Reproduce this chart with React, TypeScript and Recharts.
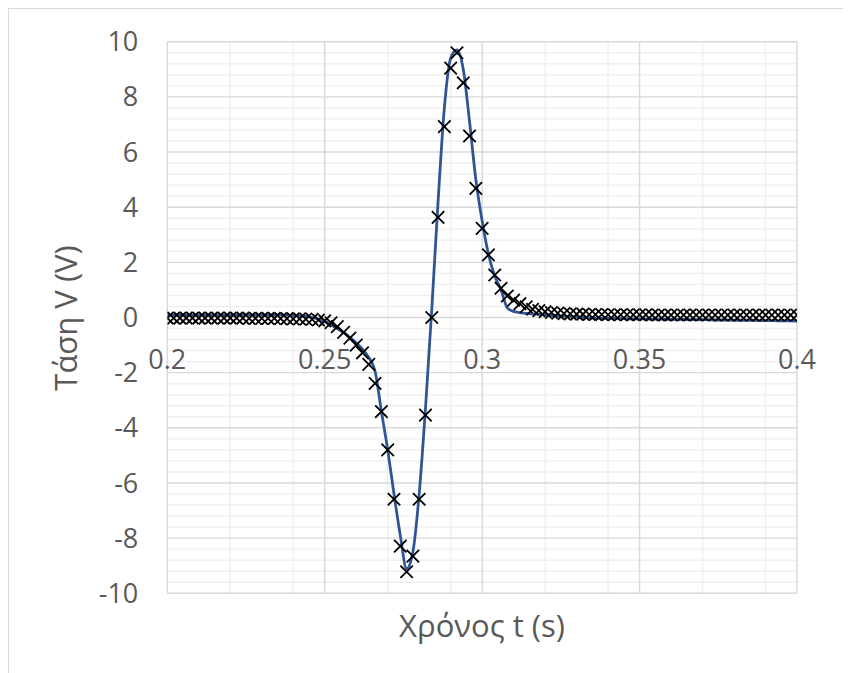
import React from "react";
import { ComposedChart, Line, XAxis, YAxis, CartesianGrid, ReferenceDot } from "recharts";

const time = [
  0.2, 0.202, 0.204, 0.206, 0.208, 0.21, 0.212, 0.214, 0.216, 0.218,
  0.22, 0.222, 0.224, 0.226, 0.228, 0.23, 0.232, 0.234, 0.236, 0.238,
  0.24, 0.242, 0.244, 0.246, 0.248, 0.25, 0.252, 0.254, 0.256, 0.258,
  0.26, 0.262, 0.264, 0.266, 0.268, 0.27, 0.272, 0.274, 0.276, 0.278,
  0.28, 0.282, 0.284, 0.286, 0.288, 0.29, 0.292, 0.294, 0.296, 0.298,
  0.3, 0.302, 0.304, 0.306, 0.308, 0.31, 0.312, 0.314, 0.316, 0.318,
  0.32, 0.322, 0.324, 0.326, 0.328, 0.33, 0.332, 0.334, 0.336, 0.338,
  0.34, 0.342, 0.344, 0.346, 0.348, 0.35, 0.352, 0.354, 0.356, 0.358,
  0.36, 0.362, 0.364, 0.366, 0.368, 0.37, 0.372, 0.374, 0.376, 0.378,
  0.38, 0.382, 0.384, 0.386, 0.388, 0.39, 0.392, 0.394, 0.396, 0.398,
  0.4,
];

// measured voltage (x markers)
const measured = [
  -0.02, -0.02, -0.02, -0.02, -0.02, -0.02, -0.02, -0.02, -0.02, -0.02,
  -0.02, -0.02, -0.02, -0.03, -0.03, -0.03, -0.03, -0.03, -0.04, -0.04,
  -0.05, -0.05, -0.06, -0.07, -0.09, -0.12, -0.19, -0.33, -0.54, -0.75,
  -1.0, -1.28, -1.7, -2.39, -3.41, -4.8, -6.59, -8.29, -9.22, -8.65,
  -6.59, -3.54, 0.0, 3.63, 6.92, 9.04, 9.6, 8.51, 6.58, 4.68,
  3.23, 2.27, 1.54, 1.06, 0.78, 0.63, 0.5, 0.39, 0.3, 0.25,
  0.21, 0.18, 0.16, 0.14, 0.13, 0.12, 0.12, 0.11, 0.11, 0.11,
  0.1, 0.1, 0.1, 0.1, 0.1, 0.1, 0.1, 0.09, 0.09, 0.09,
  0.09, 0.09, 0.09, 0.09, 0.09, 0.09, 0.09, 0.09, 0.09, 0.09,
  0.09, 0.09, 0.09, 0.09, 0.09, 0.09, 0.09, 0.09, 0.09, 0.09,
  0.09,
];

// model curve (blue line)
const model = [
  0.09, 0.09, 0.09, 0.09, 0.09, 0.09, 0.09, 0.09, 0.09, 0.09,
  0.09, 0.09, 0.09, 0.09, 0.09, 0.09, 0.09, 0.09, 0.09, 0.08,
  0.08, 0.06, 0.04, 0.0, -0.06, -0.15, -0.26, -0.4, -0.55, -0.72,
  -0.92, -1.15, -1.45, -1.95, -3.4, -4.8, -6.4, -7.9, -9.1, -8.5,
  -6.4, -3.3, 0.3, 4.2, 7.6, 9.4, 9.7, 9.0, 7.1, 5.0,
  3.5, 2.3, 1.5, 1.0, 0.35, 0.22, 0.18, 0.15, 0.13, 0.12,
  0.1, 0.08, 0.06, 0.05, 0.03, 0.01, 0.0, -0.01, -0.02, -0.02,
  -0.03, -0.03, -0.04, -0.04, -0.05, -0.05, -0.05, -0.06, -0.06, -0.06,
  -0.07, -0.07, -0.07, -0.08, -0.08, -0.08, -0.08, -0.09, -0.09, -0.09,
  -0.1, -0.1, -0.1, -0.1, -0.11, -0.11, -0.11, -0.12, -0.12, -0.12,
  -0.13,
];

const yTicks = [-10, -8, -6, -4, -2, 0, 2, 4, 6, 8, 10];
const xTickValues = [0.2, 0.25, 0.3, 0.35, 0.4];
const xTickLabels = ["0.2", "0.25", "0.3", "0.35", "0.4"];
const xMajorGrid = [0.2, 0.25, 0.3, 0.35, 0.4];
const xMinorGrid = [
  0.21, 0.22, 0.23, 0.24, 0.26, 0.27, 0.28, 0.29,
  0.31, 0.32, 0.33, 0.34, 0.36, 0.37, 0.38, 0.39,
];
const yMinorGrid: number[] = [];
for (let k = -25; k <= 25; k++) {
  if (k % 5 !== 0) yMinorGrid.push(Math.round(k * 0.4 * 10) / 10);
}

const rows = time.map((t, i) => ({ t, meas: measured[i], model: model[i] }));

const FONT = "'Open Sans', 'Noto Sans', sans-serif";
const TXT = "#595959";

const XMark = (props: any) => {
  const { cx, cy, index } = props;
  if (cx == null || cy == null) return <g key={`m${index}`} />;
  const s = 6.2;
  return (
    <path
      key={`m${index}`}
      d={`M${cx - s},${cy - s}L${cx + s},${cy + s}M${cx - s},${cy + s}L${cx + s},${cy - s}`}
      stroke="#000"
      strokeWidth={1.8}
      fill="none"
    />
  );
};

export default function App() {
  return (
    <div
      style={{
        position: "relative",
        width: 837,
        height: 680,
        border: "1px solid #d9d9d9",
        boxSizing: "border-box",
        background: "#fff",
        overflow: "hidden",
      }}
    >
      <ComposedChart
        width={835}
        height={660}
        data={rows}
        margin={{ top: 32.7, right: 47, bottom: 75.7, left: 58.3 }}
      >
        <CartesianGrid
          stroke="#efefef"
          strokeWidth={1.4}
          horizontalValues={yMinorGrid}
          verticalValues={xMinorGrid}
        />
        <CartesianGrid
          stroke="#d9d9d9"
          strokeWidth={1.4}
          horizontalValues={yTicks}
          verticalValues={xMajorGrid}
        />
        <XAxis
          dataKey="t"
          type="number"
          domain={[0.2, 0.4]}
          allowDataOverflow
          hide
        />
        <YAxis
          type="number"
          domain={[-10, 10]}
          ticks={yTicks}
          width={100}
          axisLine={false}
          tickLine={false}
          tickSize={0}
          tickMargin={29}
          interval={0}
          allowDataOverflow
          tick={{ fill: TXT, fontSize: 27, fontFamily: FONT }}
        />
        {xTickValues.map((v, i) => (
          <ReferenceDot
            key={`xt${i}`}
            x={v}
            y={0}
            r={0}
            ifOverflow="visible"
            shape={(p: any) => (
              <text
                x={p.cx}
                y={p.cy + 51}
                textAnchor="middle"
                fill={TXT}
                fontSize={27}
                fontFamily={FONT}
              >
                {xTickLabels[i]}
              </text>
            )}
          />
        ))}
        <Line
          dataKey="meas"
          stroke="none"
          dot={XMark}
          activeDot={false}
          isAnimationActive={false}
          legendType="none"
        />
        <Line
          dataKey="model"
          type="monotone"
          stroke="#2f5597"
          strokeWidth={2.8}
          dot={false}
          activeDot={false}
          isAnimationActive={false}
          legendType="none"
        />
      </ComposedChart>
      <div
        style={{
          position: "absolute",
          left: 0,
          width: 835,
          top: 596,
          paddingLeft: 158,
          paddingRight: 47,
          boxSizing: "border-box",
          textAlign: "center",
          fontFamily: FONT,
          fontSize: 31,
          color: TXT,
          lineHeight: "40px",
          whiteSpace: "nowrap",
        }}
      >
        Χρόνος t (s)
      </div>
      <div
        style={{
          position: "absolute",
          left: 56 - 150,
          top: 309 - 20,
          width: 300,
          height: 40,
          transform: "rotate(-90deg)",
          textAlign: "center",
          fontFamily: FONT,
          fontSize: 31,
          color: TXT,
          lineHeight: "40px",
          whiteSpace: "nowrap",
        }}
      >
        Τάση V (V)
      </div>
    </div>
  );
}
